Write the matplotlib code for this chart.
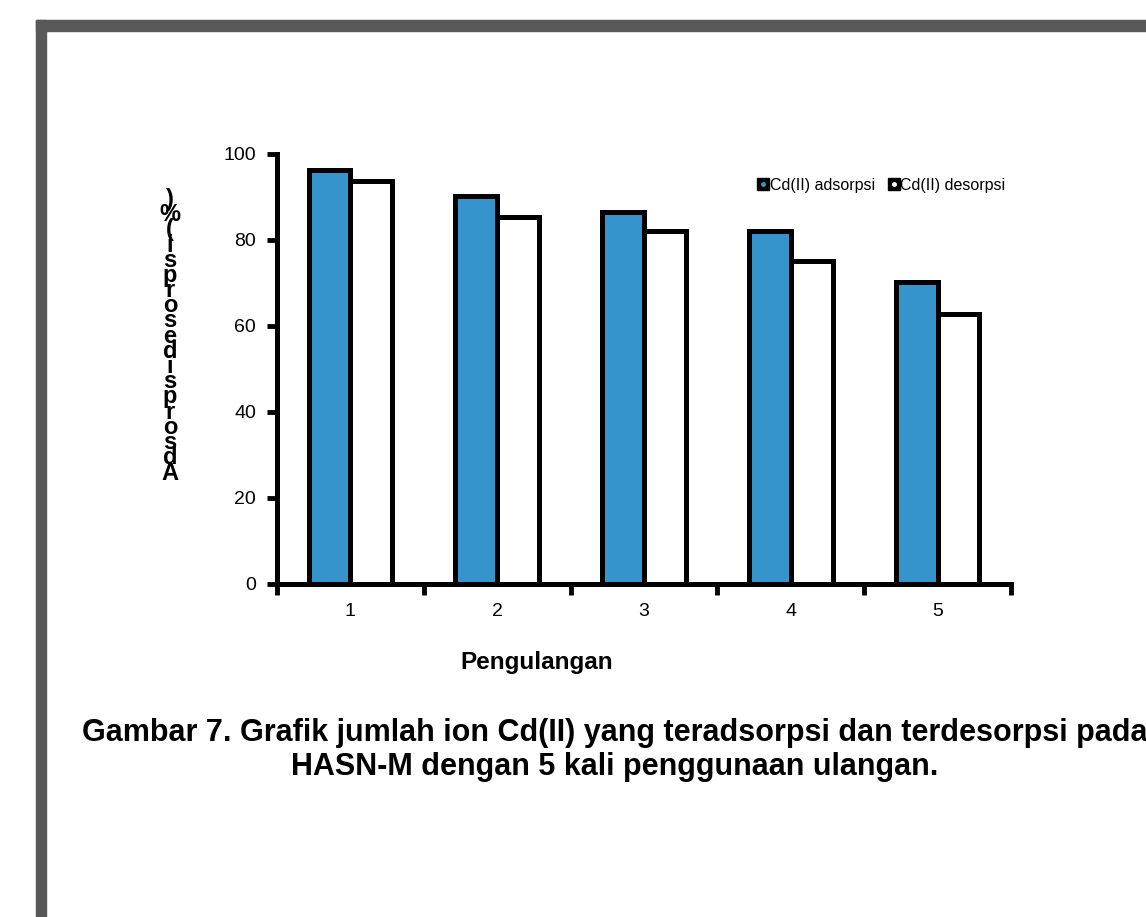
import numpy as np
import matplotlib.pyplot as plt
from matplotlib.patches import Rectangle
from matplotlib.lines import Line2D

plt.rcParams['font.family'] = ['Liberation Sans', 'DejaVu Sans']

# Cd(II) adsorption / desorption over repeated use
pengulangan = [1, 2, 3, 4, 5]
adsorpsi = [96.3, 90.2, 86.5, 82.1, 70.2]
desorpsi = [93.7, 85.3, 82.1, 75.1, 62.8]
y_ticks = [0, 20, 40, 60, 80, 100]
y_label = "Adsorpsidesorpsi(%)"
caption = ("Gambar 7. Grafik jumlah ion Cd(II) yang teradsorpsi dan terdesorpsi pada\n"
           "HASN-M dengan 5 kali penggunaan ulangan.")

W, H = 1146, 917
fig = plt.figure(figsize=(W / 100, H / 100), dpi=100)

# gray page frame on the left and top
gray = '#595959'
fig.patches.append(Rectangle((36 / W, 0), 10 / W, 1 - 20 / H,
                             transform=fig.transFigure, color=gray, zorder=0))
fig.patches.append(Rectangle((36 / W, 1 - 31 / H), 1 - 36 / W, 11 / H,
                             transform=fig.transFigure, color=gray, zorder=0))

ax = fig.add_axes([277 / W, 1 - 584 / H, (1011 - 277) / W, (584 - 154) / H])

x = np.array(pengulangan)
w = 0.285
blue = '#3594CC'
ax.bar(x - w / 2, adsorpsi, w, color=blue, edgecolor='black', linewidth=3.6,
       zorder=3)
ax.bar(x + w / 2, desorpsi, w, color='white', edgecolor='black', linewidth=3.6,
       zorder=3)

ax.set_xlim(0.5, 5.5)
ax.set_ylim(0, 100)
ax.set_yticks(y_ticks)
ax.set_xticks(pengulangan)
ax.set_xticks(np.arange(0.5, 6, 1), minor=True)
ax.tick_params(axis='x', which='major', length=0, pad=14, labelsize=14)
ax.tick_params(axis='x', which='minor', length=8, width=3.5, direction='out')
ax.tick_params(axis='y', length=7, width=3.5, pad=8, labelsize=14)

for side in ['top', 'right']:
    ax.spines[side].set_visible(False)
for side in ['left', 'bottom']:
    ax.spines[side].set_linewidth(3.6)

# axis title sits left of the axes centre
fig.text(537 / W, 1 - 663 / H, 'Pengulangan', fontsize=17.5,
         fontweight='bold', ha='center', va='center')

# y label: upright letters stacked from the bottom up
for i, ch in enumerate(y_label):
    fig.text(170 / W, 1 - (473 - i * 15.2) / H, ch, fontsize=17,
             fontweight='bold', ha='center', va='center')

# legend: black squares with a small coloured dot
h1 = (Line2D([], [], marker='s', ls='none', color='black', markersize=8),
      Line2D([], [], marker='o', ls='none', color=blue, markersize=2.5))
h2 = (Line2D([], [], marker='s', ls='none', color='black', markersize=8),
      Line2D([], [], marker='o', ls='none', color='white', markersize=2.5))
fig.legend([h1, h2], ['Cd(II) adsorpsi', 'Cd(II) desorpsi'],
           loc='center left', bbox_to_anchor=(752 / W, 1 - 185 / H),
           ncol=2, frameon=False, fontsize=11.5, handlelength=0.6,
           handletextpad=0.1, columnspacing=0.9, borderaxespad=0)

fig.text(615 / W, 1 - 750 / H, caption, fontsize=22, fontweight='bold',
         ha='center', va='center', linespacing=1.15)

fig.savefig('out.png', dpi=100)
